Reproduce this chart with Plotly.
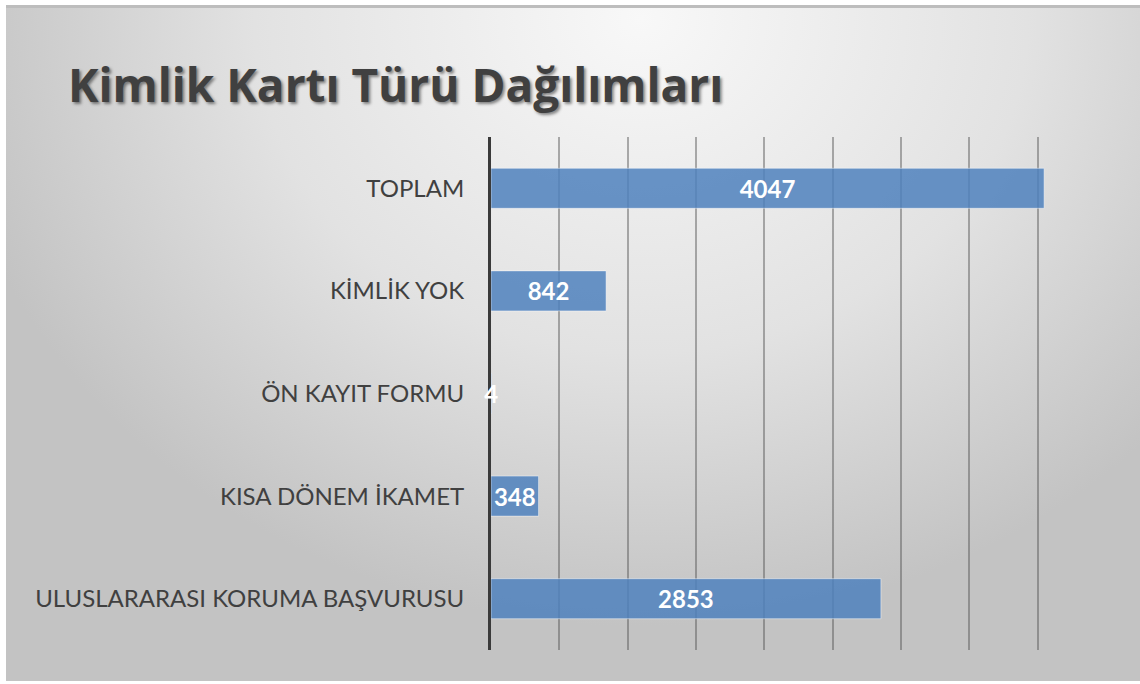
import base64
import plotly.graph_objects as go

categories = ["TOPLAM", "KİMLİK YOK", "ÖN KAYIT FORMU", "KISA DÖNEM İKAMET", "ULUSLARARASI KORUMA BAŞVURUSU"]
values = [4047, 842, 4, 348, 2853]
title_text = "Kimlik Kartı Türü Dağılımları"

W, H = 1140, 684
ML, MR, MT, MB = 491, 34, 137, 34

svg = """<svg xmlns='http://www.w3.org/2000/svg' width='1134' height='676' viewBox='0 0 1134 676' preserveAspectRatio='none'>
<defs><radialGradient id='g' cx='0.56' cy='0.02' r='0.62' gradientTransform='translate(0.56 0.02) scale(1 1.45) translate(-0.56 -0.02)'>
<stop offset='0' stop-color='#f8f8f8'/><stop offset='0.55' stop-color='#e2e2e2'/><stop offset='1' stop-color='#c3c3c3'/></radialGradient></defs>
<rect x='0' y='0' width='1134' height='676' fill='url(#g)'/>
<rect x='0' y='0' width='1134' height='3' fill='#bdbdbd'/>
</svg>"""
src = "data:image/svg+xml;base64," + base64.b64encode(svg.encode()).decode()

pw = W - ML - MR
ph = H - MT - MB
px0, py0, px1, py1 = 6, 5, 1140, 681

fig = go.Figure()
fig.add_trace(go.Bar(
    y=categories, x=values, orientation="h",
    marker=dict(color="rgba(79,129,189,0.85)", line=dict(color="rgba(255,255,255,0.45)", width=1)),
    text=[str(v) for v in values], textposition="inside", insidetextanchor="middle",
    constraintext="none", cliponaxis=False,
    textfont=dict(family="Lato", size=24, color="white", weight="bold"),
    hoverinfo="skip",
))

fig.update_layout(
    width=W, height=H,
    margin=dict(l=ML, r=MR, t=MT, b=MB),
    paper_bgcolor="white", plot_bgcolor="rgba(0,0,0,0)",
    showlegend=False, bargap=0.61,
    title=dict(text=title_text, x=68 / W, xanchor="left", xref="container",
               y=1 - 86 / H, yanchor="middle", yref="container",
               font=dict(family="Open Sans", size=46, color="#404040", weight="bold",
                         shadow="2px 2px 3px rgba(0,0,0,0.45)")),
    images=[dict(source=src, xref="paper", yref="paper",
                 x=(px0 - ML) / pw, y=(H - MB - py0) / ph,
                 sizex=(px1 - px0) / pw, sizey=(py1 - py0) / ph,
                 xanchor="left", yanchor="top", sizing="stretch", layer="below")],
)
fig.update_xaxes(range=[0, 4500], dtick=500, showticklabels=False, showgrid=True,
                 gridcolor="rgba(80,80,80,0.45)", gridwidth=2, zeroline=False, showline=False, fixedrange=True)
fig.update_yaxes(autorange="reversed", showline=True, linecolor="#3a3a3a", linewidth=3,
                 layer="below traces",
                 ticks="outside", ticklen=19, tickcolor="rgba(0,0,0,0)",
                 tickfont=dict(family="Lato", size=24, color="#404040"), showgrid=False, fixedrange=True)

fig.write_html("out.html", config={"displayModeBar": False},
               post_script="document.body.style.margin='0px';document.body.style.overflow='hidden';")
